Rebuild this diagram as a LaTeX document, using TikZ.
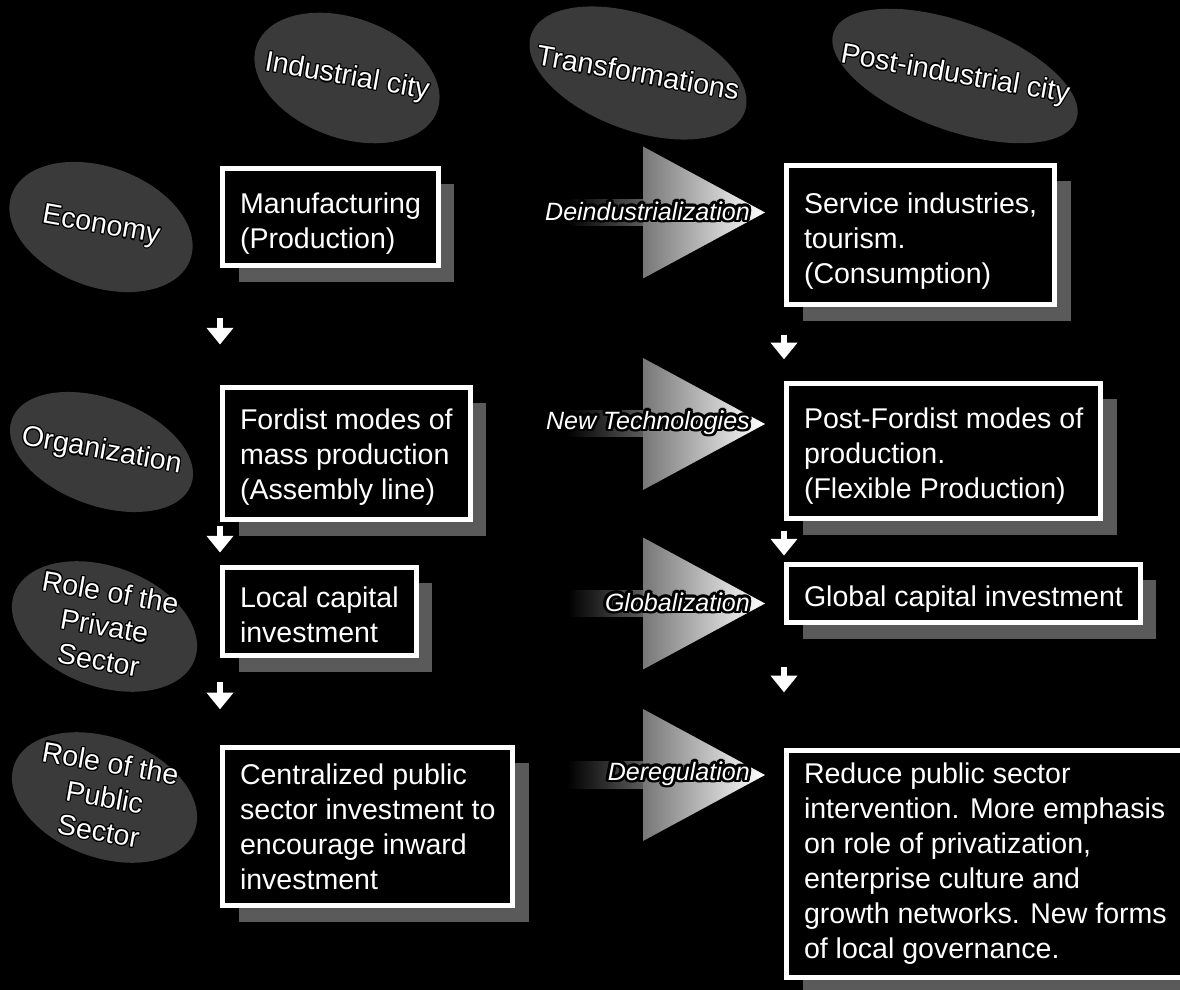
\documentclass[tikz,border=0pt]{standalone}
\usepackage{fontspec}
\setmainfont{Liberation Sans}
\usepackage{contour}
\usetikzlibrary{arrows.meta, positioning, calc, shapes.geometric, shadows}
\definecolor{ovalgray}{HTML}{3A3A3A}
\definecolor{shadowgray}{HTML}{5A5A5A}
\definecolor{trigray}{HTML}{777777}
\definecolor{shaftgray}{HTML}{5C5C5C}
\newcommand{\rim}[1]{{\contourlength{0.8pt}\contour{black}{#1}}}
\newcommand{\glow}[1]{{\contourlength{2pt}\contour{black}{#1}}}
\newcommand{\topgap}[1]{\rule{0pt}{#1}}

\begin{document}
\begin{tikzpicture}[
    x=0.025cm, y=-0.025cm,
    oval/.style={ellipse, fill=ovalgray, inner sep=0pt, rotate=-20},
    ovaltext/.style={text=white, align=center, rotate=-10, font=\fontsize{20.3}{24.5}\selectfont},
    box/.style={draw=white, line width=0.125cm, fill=black, text=white, align=left, anchor=west,
      inner xsep=0.4375cm, font=\fontsize{20.3}{24.9}\selectfont,
      drop shadow={shadow xshift=0.4cm, shadow yshift=-0.4cm, fill=shadowgray, opacity=1}},
    trans/.style={text=white, anchor=east, inner sep=0pt, font=\fontsize{17.8}{20}\selectfont\itshape},
    flow/.style={draw=white, line width=0.14cm, -{Triangle[width=0.65cm, length=0.42cm]}}
  ]
    \fill[black] (0,0) rectangle (1180,990);
    \useasboundingbox (0,0) rectangle (1180,990);

    % column and row headings
    \node[oval, minimum width=4.8cm, minimum height=3cm] (ind) at (347,78) {};
    \node[oval, minimum width=5.675cm, minimum height=2.875cm] (tra) at (638,73) {};
    \node[oval, minimum width=6.45cm, minimum height=2.7cm] (pic) at (955,76) {};
    \node[oval, minimum width=4.75cm, minimum height=3cm] (eco) at (101,227) {};
    \node[oval, minimum width=4.77cm, minimum height=2.68cm] (org) at (101.5,452) {};
    \node[oval, minimum width=4.8cm, minimum height=3cm] (priv) at (104.5,626.5) {};
    \node[oval, minimum width=4.8cm, minimum height=3cm] (pub) at (104.5,797.5) {};

    \node[ovaltext] (indlbl) at (ind) {\rim{Industrial city}};
    \node[ovaltext] (tralbl) at (tra) {\rim{Transformations}};
    \node[ovaltext] (piclbl) at (pic) {\rim{Post-industrial city}};
    \node[ovaltext] (ecolbl) at (eco) {\rim{Economy}};
    \node[ovaltext] (orglbl) at (org) {\rim{Organization}};
    \node[ovaltext] (privlbl) at (priv) {\rim{Role of the}\\\rim{Private}\\\rim{Sector}};
    \node[ovaltext] (publbl) at (pub) {\rim{Role of the}\\\rim{Public}\\\rim{Sector}};

    % industrial city
    \node[box, minimum height=2.425cm] (manu) at (220,217) {\topgap{24pt}Manufacturing\\(Production)};
    \node[box, minimum height=3.3cm] (ford) at (220,453.5) {\topgap{20pt}Fordist modes of\\mass production\\(Assembly line)};
    \node[box, minimum height=2.2cm] (local) at (220,611.5) {\topgap{20pt}Local capital\\investment};
    \node[box, minimum height=3.95cm] (cent) at (220,826.5) {Centralized public\\sector investment to\\encourage inward\\investment};

    % post-industrial city
    \node[box, minimum height=3.475cm] (serv) at (784,235) {\topgap{24pt}Service industries,\\tourism.\\(Consumption)};
    \node[box, minimum height=3.375cm] (post) at (784,451) {\topgap{22pt}Post-Fordist modes of\\production.\\(Flexible Production)};
    \node[box, minimum height=1.45cm] (glob) at (784,593.5) {\topgap{23pt}Global capital investment};
    \node[box, minimum height=5.675cm] (reduce) at (784,864) {Reduce public sector\\intervention. More emphasis\\on role of privatization,\\enterprise culture and\\growth networks. New forms\\of local governance.};

    % transformations
    \foreach \y/\txt/\n in {212.5/Deindustrialization/1, 424/New Technologies/2, 603.5/Globalization/3, 775/Deregulation/4} {
      \shade[left color=black, right color=shaftgray] (567,\y-13) rectangle (643,\y+13);
      \shade[left color=trigray, right color=white] (643,\y-66) -- (765,\y) -- (643,\y+66) -- cycle;
      \node[trans] (tr\n) at (750,\y) {\glow{\txt}};
    }

    % downward steps
    \draw[flow, shorten <=1.24cm, shorten >=1.01cm] (manu.south west) -- (manu.south west |- ford.north);
    \draw[flow, shorten <=0.09cm, shorten >=0.31cm] (ford.south west) -- (ford.south west |- local.north);
    \draw[flow, shorten <=0.61cm, shorten >=0.89cm] (local.south west) -- (local.south west |- cent.north);
    \draw[flow, shorten <=0.69cm, shorten >=0.54cm] (serv.south west) -- (serv.south west |- post.north);
    \draw[flow, shorten <=0.24cm, shorten >=0.16cm] (post.south west) -- (post.south west |- glob.north);
    \draw[flow, shorten <=1.06cm, shorten >=1.39cm] (glob.south west) -- (glob.south west |- reduce.north);
  \end{tikzpicture}
\end{document}
